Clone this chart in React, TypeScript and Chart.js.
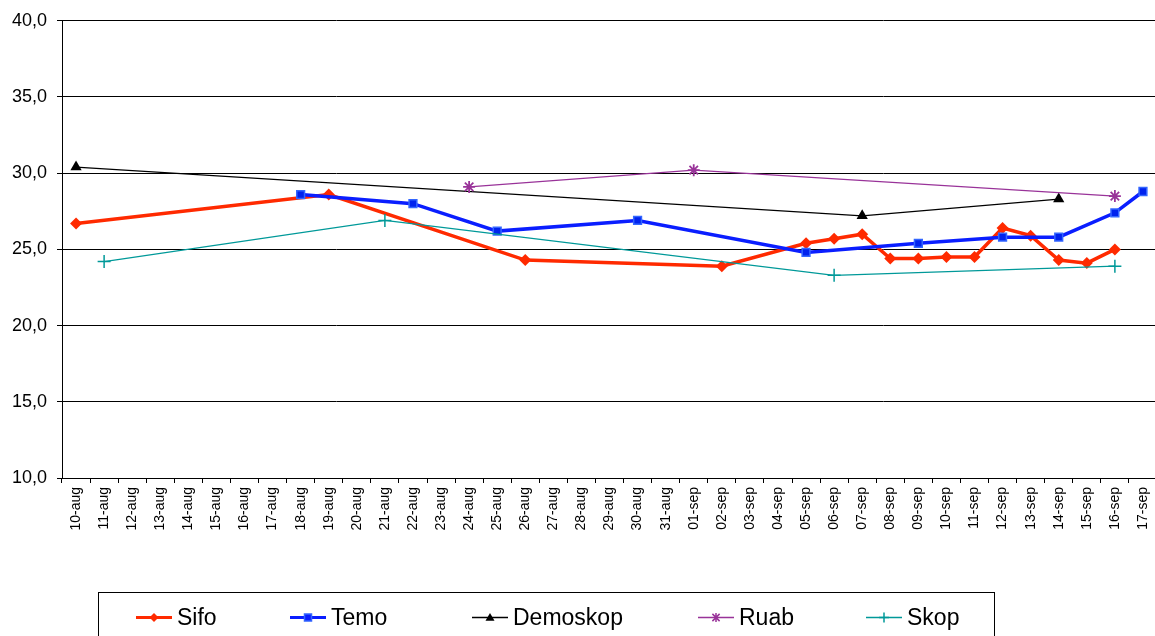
import React, { useEffect, useRef } from 'react';
import { Chart, registerables } from 'chart.js';

Chart.register(...registerables);

const categories = [
  '10-aug', '11-aug', '12-aug', '13-aug', '14-aug', '15-aug', '16-aug', '17-aug', '18-aug', '19-aug',
  '20-aug', '21-aug', '22-aug', '23-aug', '24-aug', '25-aug', '26-aug', '27-aug', '28-aug', '29-aug',
  '30-aug', '31-aug', '01-sep', '02-sep', '03-sep', '04-sep', '05-sep', '06-sep', '07-sep', '08-sep',
  '09-sep', '10-sep', '11-sep', '12-sep', '13-sep', '14-sep', '15-sep', '16-sep', '17-sep',
];

const sifoDates = ['10-aug', '19-aug', '26-aug', '02-sep', '05-sep', '06-sep', '07-sep', '08-sep', '09-sep', '10-sep', '11-sep', '12-sep', '13-sep', '14-sep', '15-sep', '16-sep'];
const sifoValues = [26.7, 28.6, 24.3, 23.9, 25.4, 25.7, 26.0, 24.4, 24.4, 24.5, 24.5, 26.4, 25.9, 24.3, 24.1, 25.0];

const temoDates = ['18-aug', '22-aug', '25-aug', '30-aug', '05-sep', '09-sep', '12-sep', '14-sep', '16-sep', '17-sep'];
const temoValues = [28.6, 28.0, 26.2, 26.9, 24.8, 25.4, 25.8, 25.8, 27.4, 28.8];

const demoskopDates = ['10-aug', '07-sep', '14-sep'];
const demoskopValues = [30.4, 27.2, 28.3];

const ruabDates = ['24-aug', '01-sep', '16-sep'];
const ruabValues = [29.1, 30.2, 28.5];

const skopDates = ['11-aug', '21-aug', '06-sep', '16-sep'];
const skopValues = [24.2, 26.9, 23.3, 23.9];

const seriesNames = ['Sifo', 'Temo', 'Demoskop', 'Ruab', 'Skop'];

const yMin = 10;
const yMax = 40;
const yStep = 5;

const FONT = "'Liberation Sans', Arial, sans-serif";

const COLORS = {
  sifo: '#FF2A00',
  temo: '#0A1EFF',
  temoMarker: '#3366FF',
  demoskop: '#000000',
  ruab: '#993399',
  skop: '#009999',
};

const toPoints = (dates: string[], values: number[]) =>
  dates.map((d, i) => ({ x: d, y: values[i] }));

type Marker = 'diamond' | 'square' | 'triangle' | 'star' | 'cross';

function drawMarker(ctx: CanvasRenderingContext2D, kind: Marker, x: number, y: number, r: number, fill: string, stroke: string) {
  ctx.save();
  ctx.fillStyle = fill;
  ctx.strokeStyle = stroke;
  ctx.lineWidth = 1.5;
  if (kind === 'diamond') {
    ctx.beginPath();
    ctx.moveTo(x, y - r);
    ctx.lineTo(x + r, y);
    ctx.lineTo(x, y + r);
    ctx.lineTo(x - r, y);
    ctx.closePath();
    ctx.fill();
  } else if (kind === 'square') {
    ctx.fillRect(x - r, y - r, 2 * r, 2 * r);
    ctx.lineWidth = 1.5;
    ctx.strokeRect(x - r, y - r, 2 * r, 2 * r);
  } else if (kind === 'triangle') {
    ctx.beginPath();
    ctx.moveTo(x, y - r);
    ctx.lineTo(x + r, y + r * 0.7);
    ctx.lineTo(x - r, y + r * 0.7);
    ctx.closePath();
    ctx.fill();
  } else if (kind === 'star') {
    ctx.beginPath();
    ctx.moveTo(x, y - r);
    ctx.lineTo(x, y + r);
    ctx.moveTo(x - r * 0.8, y - r * 0.8);
    ctx.lineTo(x + r * 0.8, y + r * 0.8);
    ctx.moveTo(x + r * 0.8, y - r * 0.8);
    ctx.lineTo(x - r * 0.8, y + r * 0.8);
    ctx.stroke();
  } else if (kind === 'cross') {
    ctx.beginPath();
    ctx.moveTo(x, y - r);
    ctx.lineTo(x, y + r);
    ctx.moveTo(x - r, y);
    ctx.lineTo(x + r, y);
    ctx.stroke();
  }
  ctx.restore();
}

const legendSpec: { color: string; width: number; marker: Marker; fill: string; stroke: string; x: number }[] = [
  { color: COLORS.sifo, width: 3, marker: 'diamond', fill: COLORS.sifo, stroke: COLORS.sifo, x: 136 },
  { color: COLORS.temo, width: 3, marker: 'square', fill: COLORS.temo, stroke: COLORS.temoMarker, x: 290 },
  { color: COLORS.demoskop, width: 1.3, marker: 'triangle', fill: COLORS.demoskop, stroke: COLORS.demoskop, x: 472 },
  { color: COLORS.ruab, width: 1.3, marker: 'star', fill: COLORS.ruab, stroke: COLORS.ruab, x: 698 },
  { color: COLORS.skop, width: 1.3, marker: 'cross', fill: COLORS.skop, stroke: COLORS.skop, x: 866 },
];

const legendPlugin = {
  id: 'customLegend',
  afterDraw(chart: any) {
    const ctx: CanvasRenderingContext2D = chart.ctx;
    ctx.save();
    ctx.strokeStyle = '#000';
    ctx.lineWidth = 1;
    ctx.strokeRect(98.5, 592.5, 896, 80);
    const cy = 617.5;
    ctx.font = `23px ${FONT}`;
    ctx.textBaseline = 'middle';
    ctx.textAlign = 'left';
    legendSpec.forEach((item, i) => {
      ctx.strokeStyle = item.color;
      ctx.lineWidth = item.width;
      ctx.beginPath();
      ctx.moveTo(item.x, cy);
      ctx.lineTo(item.x + 36, cy);
      ctx.stroke();
      const r = item.marker === 'square' ? 3.5 : item.marker === 'cross' ? 5 : 4.5;
      drawMarker(ctx, item.marker, item.x + 18, cy, r, item.fill, item.stroke);
      ctx.fillStyle = '#000';
      ctx.fillText(seriesNames[i], item.x + 41, cy + 1);
    });
    ctx.restore();
  },
};

export default function App() {
  const canvasRef = useRef<HTMLCanvasElement | null>(null);

  useEffect(() => {
    if (!canvasRef.current) return;
    const chart = new Chart(canvasRef.current, {
      type: 'line',
      data: {
        labels: categories,
        datasets: [
          {
            label: seriesNames[0],
            data: toPoints(sifoDates, sifoValues) as any,
            borderColor: COLORS.sifo,
            backgroundColor: COLORS.sifo,
            borderWidth: 3.5,
            pointStyle: 'rectRot',
            pointRadius: 6,
            pointBorderWidth: 0,
            pointBackgroundColor: COLORS.sifo,
            spanGaps: true,
            tension: 0,
            order: 5,
          },
          {
            label: seriesNames[1],
            data: toPoints(temoDates, temoValues) as any,
            borderColor: COLORS.temo,
            backgroundColor: COLORS.temo,
            borderWidth: 3.5,
            pointStyle: 'rect',
            pointRadius: 5.5,
            pointBorderWidth: 1.5,
            pointBorderColor: COLORS.temoMarker,
            pointBackgroundColor: '#0022EE',
            spanGaps: true,
            tension: 0,
            order: 4,
          },
          {
            label: seriesNames[2],
            data: toPoints(demoskopDates, demoskopValues) as any,
            borderColor: COLORS.demoskop,
            backgroundColor: COLORS.demoskop,
            borderWidth: 1.3,
            pointStyle: 'triangle',
            pointRadius: 6.5,
            pointBorderWidth: 0,
            pointBackgroundColor: COLORS.demoskop,
            spanGaps: true,
            tension: 0,
            order: 3,
          },
          {
            label: seriesNames[3],
            data: toPoints(ruabDates, ruabValues) as any,
            borderColor: COLORS.ruab,
            backgroundColor: COLORS.ruab,
            borderWidth: 1.3,
            pointStyle: 'star',
            pointRadius: 6,
            pointBorderWidth: 1.8,
            pointBorderColor: COLORS.ruab,
            spanGaps: true,
            tension: 0,
            order: 2,
          },
          {
            label: seriesNames[4],
            data: toPoints(skopDates, skopValues) as any,
            borderColor: COLORS.skop,
            backgroundColor: COLORS.skop,
            borderWidth: 1.3,
            pointStyle: 'cross',
            pointRadius: 6.5,
            pointBorderWidth: 1.5,
            pointBorderColor: COLORS.skop,
            spanGaps: true,
            tension: 0,
            order: 1,
          },
        ],
      },
      options: {
        responsive: false,
        maintainAspectRatio: false,
        animation: false,
        devicePixelRatio: 1,
        layout: { autoPadding: false, padding: { left: 0, right: 1, top: 20, bottom: 0 } },
        plugins: {
          legend: { display: false },
          tooltip: { enabled: false },
        },
        scales: {
          x: {
            type: 'category',
            offset: true,
            grid: {
              display: true,
              drawOnChartArea: false,
              drawTicks: true,
              tickLength: 5,
              offset: true,
              color: '#000',
              lineWidth: 1,
            },
            border: { display: true, color: '#000', width: 1 },
            ticks: {
              autoSkip: false,
              maxRotation: 90,
              minRotation: 90,
              font: { family: FONT, size: 14 },
              color: '#000',
              padding: 4,
            },
            afterFit: (s: any) => {
              s.height = 158;
              s.paddingRight = 0;
              s.paddingLeft = 0;
            },
          },
          y: {
            min: yMin,
            max: yMax,
            ticks: {
              stepSize: yStep,
              font: { family: FONT, size: 18 },
              color: '#000',
              padding: 10,
              callback: (v: any) => Number(v).toFixed(1).replace('.', ','),
            },
            grid: { color: '#000', lineWidth: 1, tickLength: 5, drawTicks: true },
            border: { display: true, color: '#000', width: 1 },
            afterFit: (s: any) => {
              s.width = 62;
            },
          },
        },
      },
      plugins: [legendPlugin],
    });
    return () => chart.destroy();
  }, []);

  return (
    <div
      style={{
        position: 'fixed',
        left: 0,
        top: 0,
        width: 1155,
        height: 636,
        overflow: 'hidden',
        background: '#fff',
      }}
    >
      <canvas ref={canvasRef} width={1158} height={636} style={{ display: 'block', width: 1158, height: 636 }} />
    </div>
  );
}
